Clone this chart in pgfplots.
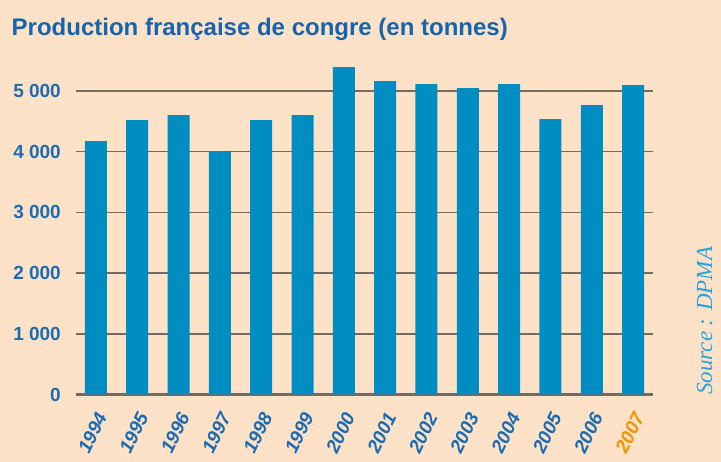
\documentclass[border=0pt]{standalone}
\usepackage{pgfplots}
\pgfplotsset{compat=1.18}
\usepackage{fontspec}
\setmainfont{Liberation Sans}
\newfontfamily\serifit{Liberation Serif}
\definecolor{bg}{HTML}{FDE2C8}
\definecolor{barblue}{HTML}{008EC2}
\definecolor{tickblue}{HTML}{1B6CB3}
\definecolor{titleblue}{HTML}{1565AE}
\definecolor{orange07}{HTML}{F39200}
\definecolor{srcblue}{HTML}{29A4D9}
\definecolor{gridgrey}{HTML}{766A5E}
\begin{document}
\begin{tikzpicture}[x=1pt,y=1pt]
\fill[bg] (0,0) rectangle (721,462);
\begin{axis}[
  at={(76pt,67.5pt)}, anchor=south west,
  scale only axis, width=577pt, height=334pt,
  xmin=-0.48, xmax=13.48, ymin=0, ymax=5500,
  axis line style={draw=none},
  tick style={draw=none},
  ybar, bar width=22pt,
  xtick={0,...,13},
  xticklabels={1994,1995,1996,1997,1998,1999,2000,2001,2002,2003,2004,2005,2006,\textcolor{orange07}{2007}},
  xticklabel style={xshift=6pt,yshift=-15pt,rotate=64,anchor=east,inner sep=0pt,
    font=\bfseries\itshape\fontsize{19}{19}\selectfont, text=tickblue},
  ytick={1000,2000,3000,4000,5000},
  yticklabels={1 000,2 000,3 000,4 000,5 000},
  extra y ticks={0}, extra y tick labels={0},
  extra y tick style={grid style={line width=2.5pt, gridgrey}},
  yticklabel style={inner sep=0pt, xshift=-15pt,
    font=\bfseries\fontsize{19}{19}\selectfont, text=tickblue},
  ymajorgrids, grid style={line width=1.5pt, gridgrey},
]
\addplot[fill=barblue, draw=none, bar shift=0pt] coordinates {
 (0,4173) (1,4519) (2,4601) (3,4008) (4,4519) (5,4601) (6,5391)
 (7,5160) (8,5111) (9,5045) (10,5111) (11,4535) (12,4765) (13,5095)};
\end{axis}
\node[anchor=base west, inner sep=0pt, text=titleblue, font=\bfseries\fontsize{24}{24}\selectfont] at (11.5,426) {Production française de congre (en tonnes)};
\node[anchor=base west, inner sep=0pt, rotate=90, text=srcblue, font=\serifit\itshape\fontsize{23}{23}\selectfont] at (712,67) {Source : DPMA};
\pgfresetboundingbox
\useasboundingbox (0,0) rectangle (721,462);
\end{tikzpicture}
\end{document}
